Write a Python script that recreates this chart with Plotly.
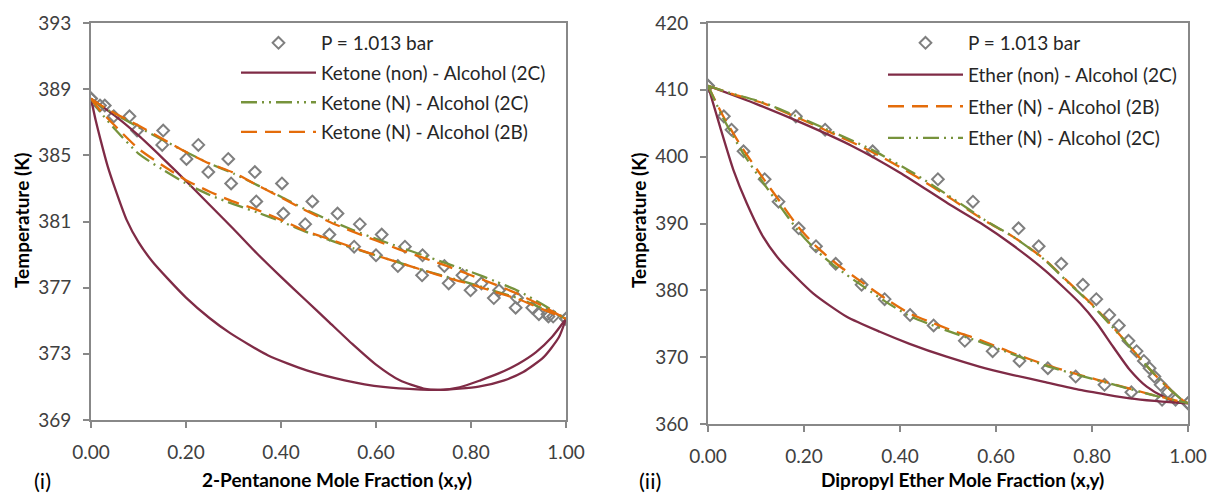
import plotly.graph_objects as go

# ---------------- (i) 2-pentanone / alcohol ----------------
T_exp_k = [388.43, 388.01, 387.36, 386.50, 385.63, 384.78, 383.99, 383.30, 382.21, 381.48,
           380.84, 380.21, 379.48, 378.96, 378.31, 377.75, 377.26, 376.84, 376.37, 375.79,
           375.40, 375.25, 375.12]
x_exp_k = [0.000, 0.019, 0.048, 0.097, 0.150, 0.201, 0.247, 0.295, 0.348, 0.405,
           0.451, 0.502, 0.554, 0.600, 0.646, 0.697, 0.753, 0.799, 0.848, 0.894,
           0.943, 0.963, 1.000]
y_exp_k = [0.000, 0.029, 0.081, 0.152, 0.226, 0.289, 0.345, 0.402, 0.466, 0.519,
           0.566, 0.612, 0.661, 0.698, 0.744, 0.782, 0.822, 0.859, 0.897, 0.929,
           0.961, 0.973, 1.000]

# Ketone (non) - Alcohol (2C): bubble (T-x) and dew (T-y) curves
non_bub_x_k = [0.000, 0.010, 0.020, 0.035, 0.050, 0.075, 0.100, 0.130, 0.163, 0.200, 0.250,
               0.293, 0.373, 0.454, 0.534, 0.615, 0.695, 0.736, 0.816, 0.870, 0.910, 0.953,
               0.985, 1.000]
non_bub_T_k = [388.43, 387.10, 385.95, 384.35, 383.05, 381.10, 379.75, 378.55, 377.50, 376.40,
               375.15, 374.25, 372.90, 372.00, 371.40, 371.00, 370.84, 370.82, 371.02, 371.40,
               371.90, 372.80, 374.00, 375.12]
non_dew_y_k = [0.000, 0.050, 0.100, 0.150, 0.200, 0.250, 0.300, 0.350, 0.400, 0.450, 0.500,
               0.550, 0.600, 0.650, 0.700, 0.736, 0.776, 0.820, 0.857, 0.900, 0.937,
               0.970, 1.000]
non_dew_T_k = [388.43, 387.40, 386.20, 384.85, 383.45, 382.00, 380.55, 379.05, 377.65, 376.30,
               374.95, 373.60, 372.35, 371.40, 370.90, 370.82, 370.98, 371.40, 371.80,
               372.40, 373.10, 374.00, 375.12]

comp_k = [0.00, 0.02, 0.05, 0.10, 0.15, 0.20, 0.25, 0.30, 0.35, 0.40, 0.45, 0.50,
          0.55, 0.60, 0.65, 0.70, 0.75, 0.80, 0.85, 0.90, 0.95, 1.00]
# Ketone (N) - Alcohol (2C)
n2c_bub_T_k = [388.43, 387.60, 386.60, 385.10, 384.15, 383.30, 382.60, 382.05, 381.55, 381.00,
               380.40, 379.90, 379.40, 378.95, 378.50, 378.05, 377.65, 377.25, 376.80, 376.35,
               375.75, 375.12]
n2c_dew_T_k = [388.43, 388.00, 387.50, 386.70, 385.95, 385.20, 384.50, 383.90, 383.20, 382.50,
               381.75, 381.10, 380.50, 379.95, 379.45, 378.95, 378.45, 377.95, 377.40, 376.80,
               376.00, 375.12]
# Ketone (N) - Alcohol (2B)
n2b_bub_T_k = [388.43, 387.70, 386.80, 385.40, 384.40, 383.50, 382.80, 382.20, 381.70, 381.10,
               380.45, 379.95, 379.45, 378.95, 378.50, 378.05, 377.60, 377.20, 376.75, 376.30,
               375.70, 375.12]
n2b_dew_T_k = [388.43, 388.05, 387.55, 386.80, 386.00, 385.20, 384.50, 383.95, 383.20, 382.45,
               381.70, 381.00, 380.40, 379.85, 379.30, 378.80, 378.30, 377.75, 377.20, 376.60,
               375.90, 375.12]

# ---------------- (ii) dipropyl ether / alcohol ----------------
T_exp_e = [410.60, 406.03, 404.04, 400.80, 396.62, 393.27, 389.28, 386.60, 383.97, 380.82,
           378.68, 376.31, 374.75, 372.44, 370.90, 369.44, 368.35, 367.10, 365.86, 364.76,
           363.62, 363.12]
x_exp_e = [0.000, 0.033, 0.049, 0.074, 0.118, 0.147, 0.189, 0.225, 0.266, 0.320,
           0.368, 0.421, 0.470, 0.535, 0.593, 0.649, 0.708, 0.766, 0.826, 0.882,
           0.946, 1.000]
y_exp_e = [0.000, 0.183, 0.244, 0.343, 0.479, 0.552, 0.647, 0.689, 0.736, 0.781,
           0.809, 0.836, 0.856, 0.876, 0.893, 0.908, 0.920, 0.930, 0.943, 0.958,
           0.974, 1.000]

# Ether (non) - Alcohol (2C)
non_bub_x_e = [0.000, 0.025, 0.053, 0.081, 0.115, 0.150, 0.219, 0.289, 0.358, 0.420, 0.497,
               0.565, 0.636, 0.700, 0.775, 0.830, 0.879, 0.930, 0.983, 1.000]
non_bub_T_e = [410.60, 404.50, 398.00, 393.00, 388.00, 384.50, 379.55, 376.05, 373.80, 372.00,
               370.07, 368.60, 367.33, 366.30, 365.09, 364.40, 363.84, 363.45, 363.15, 363.12]
non_dew_y_e = [0.000, 0.100, 0.200, 0.300, 0.400, 0.500, 0.567, 0.636, 0.705, 0.775, 0.810,
               0.844, 0.879, 0.914, 0.949, 0.983, 1.000]
non_dew_T_e = [410.60, 407.90, 404.90, 401.60, 397.60, 393.00, 390.10, 386.70, 382.80, 378.06,
               375.07, 371.56, 368.08, 365.58, 364.08, 363.20, 363.12]

# Ether (N) - Alcohol (2B)
n2b_bub_x_e = [0.000, 0.032, 0.074, 0.115, 0.150, 0.188, 0.226, 0.268, 0.324, 0.369, 0.421,
               0.476, 0.520, 0.567, 0.636, 0.705, 0.775, 0.844, 0.914, 0.970, 1.000]
n2b_bub_T_e = [410.60, 406.00, 401.00, 396.76, 393.26, 389.50, 386.53, 383.94, 381.05, 378.80,
               376.50, 374.90, 373.70, 372.57, 370.58, 368.83, 367.33, 365.98, 364.59, 363.60,
               363.12]
n2b_dew_y_e = [0.000, 0.050, 0.115, 0.181, 0.244, 0.341, 0.428, 0.511, 0.575, 0.636, 0.700,
               0.747, 0.800, 0.845, 0.880, 0.914, 0.940, 0.965, 0.990, 1.000]
n2b_dew_T_e = [410.60, 409.40, 408.00, 406.00, 404.00, 400.74, 397.26, 393.50, 390.50, 388.00,
               384.70, 381.50, 377.90, 374.40, 371.50, 368.70, 366.70, 365.00, 363.50, 363.12]

# Ether (N) - Alcohol (2C)
n2c_bub_T_e = [410.60, 405.70, 400.40, 396.10, 392.60, 388.90, 385.95, 383.40, 380.55, 378.35,
               376.10, 374.55, 373.40, 372.30, 370.40, 368.70, 367.25, 365.92, 364.55, 363.58,
               363.12]
n2c_dew_T_e = [410.60, 409.45, 408.10, 406.15, 404.20, 401.05, 397.55, 393.70, 390.60, 388.00,
               384.65, 381.40, 377.80, 374.30, 371.45, 368.70, 366.70, 365.00, 363.50, 363.12]

# ---------------- styling ----------------
FONT = "Lato"
MAROON = "#7F2B46"
ORANGE = "#E46C0A"
GREEN = "#77933C"
GRAY = "#888888"
MARKER_GRAY = "#7F7F7F"

DASH_LONG = "16px,8px"
DASH_LDD = "16px,5px,2px,5px,2px,5px"


def joined(a_x, a_T, b_x, b_T):
    """Bubble and dew branches drawn as one trace, separated by a gap."""
    return list(a_x) + [None] + list(b_x), list(a_T) + [None] + list(b_T)


fig = go.Figure()


def add_exp(xs, ys, Ts, xa, ya, legend):
    fig.add_trace(go.Scatter(
        x=list(xs) + [None] + list(ys), y=list(Ts) + [None] + list(Ts),
        mode="markers", name="P = 1.013 bar",
        marker=dict(symbol="diamond-open", size=9, color=MARKER_GRAY,
                    line=dict(width=2, color=MARKER_GRAY)),
        xaxis=xa, yaxis=ya, legend=legend, legendgroup=legend + "a"))


def add_line(xs, Ts, name, color, dash, xa, ya, legend, grp):
    fig.add_trace(go.Scatter(
        x=xs, y=Ts, mode="lines", name=name, connectgaps=False,
        line=dict(color=color, width=2.3, dash=dash, shape="spline", smoothing=0.6),
        xaxis=xa, yaxis=ya, legend=legend, legendgroup=legend + grp))


# (i)
add_exp(x_exp_k, y_exp_k, T_exp_k, "x", "y", "legend")
xs, Ts = joined(non_bub_x_k, non_bub_T_k, non_dew_y_k, non_dew_T_k)
add_line(xs, Ts, "Ketone (non) - Alcohol (2C)", MAROON, "solid", "x", "y", "legend", "b")
xs, Ts = joined(comp_k, n2c_bub_T_k, comp_k, n2c_dew_T_k)
add_line(xs, Ts, "Ketone (N) - Alcohol (2C)", GREEN, DASH_LDD, "x", "y", "legend", "c")
xs, Ts = joined(comp_k, n2b_bub_T_k, comp_k, n2b_dew_T_k)
add_line(xs, Ts, "Ketone (N) - Alcohol (2B)", ORANGE, DASH_LONG, "x", "y", "legend", "d")

# (ii)
add_exp(x_exp_e, y_exp_e, T_exp_e, "x2", "y2", "legend2")
xs, Ts = joined(non_bub_x_e, non_bub_T_e, non_dew_y_e, non_dew_T_e)
add_line(xs, Ts, "Ether (non) - Alcohol (2C)", MAROON, "solid", "x2", "y2", "legend2", "b")
xs, Ts = joined(n2b_bub_x_e, n2b_bub_T_e, n2b_dew_y_e, n2b_dew_T_e)
add_line(xs, Ts, "Ether (N) - Alcohol (2B)", ORANGE, DASH_LONG, "x2", "y2", "legend2", "c")
xs, Ts = joined(n2b_bub_x_e, n2c_bub_T_e, n2b_dew_y_e, n2c_dew_T_e)
add_line(xs, Ts, "Ether (N) - Alcohol (2C)", GREEN, DASH_LDD, "x2", "y2", "legend2", "d")

W, H = 1210, 495
TXT = 19


def axis_common(standoff):
    return dict(showline=True, linecolor=GRAY, linewidth=2, mirror=True,
                ticks="outside", ticklen=6, tickwidth=2, tickcolor=GRAY,
                showgrid=False, zeroline=False, ticklabelstandoff=standoff,
                automargin=False,
                tickfont=dict(family=FONT, size=TXT, color="#404040"))


x_ticks = [0, 0.2, 0.4, 0.6, 0.8, 1.0]
x_ticktext = ["0.00", "0.20", "0.40", "0.60", "0.80", "1.00"]
k_ticks = [369, 373, 377, 381, 385, 389, 393]
e_ticks = [360, 370, 380, 390, 400, 410, 420]

legend_style = dict(bgcolor="rgba(0,0,0,0)", borderwidth=0, itemwidth=75,
                    traceorder="grouped",
                    font=dict(family=FONT, size=TXT, color="#262626"),
                    xanchor="left", yanchor="top", itemclick=False)

fig.update_layout(
    width=W, height=H, autosize=False,
    margin=dict(l=0, r=0, t=0, b=0, pad=0, autoexpand=False),
    paper_bgcolor="white", plot_bgcolor="white",
    font=dict(family=FONT),
    showlegend=True,
    xaxis=dict(domain=[91 / W, 566 / W], range=[0, 1], tickvals=x_ticks,
               ticktext=x_ticktext, anchor="y", **axis_common(8)),
    yaxis=dict(domain=[1 - 420 / H, 1 - 23 / H], range=[369, 393], tickvals=k_ticks,
               anchor="x", **axis_common(8)),
    xaxis2=dict(domain=[708 / W, 1188 / W], range=[0, 1], tickvals=x_ticks,
                ticktext=x_ticktext, anchor="y2", **axis_common(8)),
    yaxis2=dict(domain=[1 - 424 / H, 1 - 23 / H], range=[360, 420], tickvals=e_ticks,
                anchor="x2", **axis_common(8)),
    legend=dict(x=236 / W, y=1 - 24 / H, tracegroupgap=2, **legend_style),
    legend2=dict(x=883 / W, y=1 - 24 / H, tracegroupgap=4, **legend_style),
)

title_font = dict(family=FONT, size=TXT, color="#000000")
labels = [
    dict(text="<b>2-Pentanone Mole Fraction (x,y)</b>", x=337, y=479, font=title_font),
    dict(text="<b>Dipropyl Ether Mole Fraction (x,y)</b>", x=962, y=479, font=title_font),
    dict(text="<b>Temperature (K)</b>", x=21, y=221, font=title_font, textangle=-90),
    dict(text="<b>Temperature (K)</b>", x=638, y=221, font=title_font, textangle=-90),
    dict(text="(i)", x=42, y=480, font=dict(family=FONT, size=22, color="#000000")),
    dict(text="(ii)", x=650, y=480, font=dict(family=FONT, size=22, color="#000000")),
]
for lab in labels:
    fig.add_annotation(text=lab["text"], x=lab["x"] / W, y=1 - lab["y"] / H,
                       xref="paper", yref="paper", showarrow=False,
                       xanchor="center", yanchor="middle",
                       textangle=lab.get("textangle", 0), font=lab["font"])

fig.write_html("out.html")
